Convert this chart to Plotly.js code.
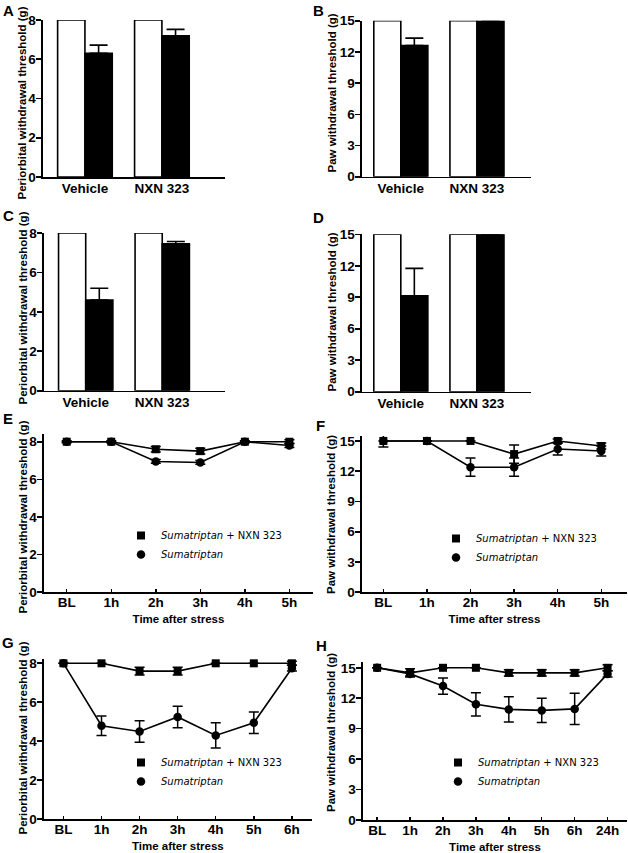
<!DOCTYPE html>
<html>
<head>
<meta charset="utf-8">
<script src="https://cdn.plot.ly/plotly-3.0.1.min.js"></script>
<style>html,body{margin:0;padding:0;background:#fff;}#chart{width:628px;height:853px;}</style>
</head>
<body>
<div id="chart"></div>
<script>
// ---------- DATA ----------
const barGroups = ["Vehicle", "NXN 323"];
// Panel A (periorbital)
const aOpen = [8, 8];
const aFilled = [6.3, 7.2];
const aErr = [0.42, 0.32];
// Panel B (paw)
const bOpen = [15, 15];
const bFilled = [12.6, 15];
const bErr = [0.72, 0];
// Panel C (periorbital)
const cOpen = [8, 8];
const cFilled = [4.6, 7.45];
const cErr = [0.6, 0.12];
// Panel D (paw)
const dOpen = [15, 15];
const dFilled = [9.15, 15];
const dErr = [2.6, 0];

const timeEF = ["BL", "1h", "2h", "3h", "4h", "5h"];
const timeG = ["BL", "1h", "2h", "3h", "4h", "5h", "6h"];
const timeH = ["BL", "1h", "2h", "3h", "4h", "5h", "6h", "24h"];

// Panel E (periorbital)
const eCombo = [8, 8, 7.6, 7.5, 8, 8];
const eComboErr = [0.05, 0.05, 0.15, 0.15, 0.05, 0.1];
const eSuma = [8, 8, 6.95, 6.9, 8, 7.8];
const eSumaErr = [0, 0, 0.1, 0.1, 0, 0.1];
// Panel F (paw)
const fCombo = [15, 15, 15, 13.7, 15, 14.5];
const fComboErr = [0, 0, 0, 0.9, 0.2, 0.3];
const fSuma = [15, 15, 12.4, 12.4, 14.2, 14.0];
const fSumaErr = [0.6, 0, 0.9, 0.9, 0.6, 0.5];
// Panel G (periorbital)
const gCombo = [8, 8, 7.6, 7.6, 8, 8, 8];
const gComboErr = [0, 0, 0.2, 0.2, 0, 0, 0.1];
const gSuma = [8, 4.8, 4.5, 5.25, 4.3, 4.95, 7.75];
const gSumaErr = [0, 0.5, 0.55, 0.55, 0.65, 0.55, 0.15];
// Panel H (paw)
const hCombo = [15, 14.5, 15, 15, 14.5, 14.5, 14.5, 15];
const hComboErr = [0, 0.4, 0, 0, 0.3, 0.3, 0.3, 0.3];
const hSuma = [15, 14.4, 13.2, 11.4, 10.9, 10.8, 10.95, 14.4];
const hSumaErr = [0, 0.2, 0.8, 1.15, 1.25, 1.2, 1.55, 0.3];

const comboName = "<i>Sumatriptan</i> + NXN 323";
const sumaName = "<i>Sumatriptan</i>";
const periTitle = "Periorbital withdrawal threshold (g)";
const pawTitle = "Paw withdrawal threshold (g)";
const timeTitle = "Time after stress";

// ---------- STYLE ----------
const FONT = 'Arial, "Liberation Sans", sans-serif';
const W = 628, H = 853;
const px = v => v / W;
const py = v => 1 - v / H;

function barPair(openV, filledV, err, k) {
  const ax = k === 1 ? '' : k;
  return [
    {type: 'bar', x: barGroups, y: openV, xaxis: 'x' + ax, yaxis: 'y' + ax,
     marker: {color: '#fff', line: {color: '#000', width: 1.6}}, showlegend: false,
     cliponaxis: false, hoverinfo: 'skip'},
    {type: 'bar', x: barGroups, y: filledV, xaxis: 'x' + ax, yaxis: 'y' + ax,
     marker: {color: '#000', line: {color: '#000', width: 1.6}}, showlegend: false,
     cliponaxis: false, hoverinfo: 'skip',
     error_y: {type: 'data', symmetric: false, array: err, arrayminus: err.map(() => 0),
               color: '#000', thickness: 1.6, width: 9}}
  ];
}

function linePair(xs, combo, comboErr, suma, sumaErr, k, leg) {
  const ax = k === 1 ? '' : k;
  const base = {type: 'scatter', x: xs, xaxis: 'x' + ax, yaxis: 'y' + ax, cliponaxis: false, legend: leg};
  return [
    Object.assign({}, base, {y: suma, mode: 'lines', showlegend: false, line: {color: '#000', width: 1.6}}),
    Object.assign({}, base, {y: combo, mode: 'lines', showlegend: false, line: {color: '#000', width: 1.6}}),
    Object.assign({}, base, {y: suma, mode: 'markers', name: sumaName, legendrank: 2,
      marker: {symbol: 'circle', size: 8.5, color: '#000'},
      error_y: {type: 'data', array: sumaErr, color: '#000', thickness: 1.5, width: 5}}),
    Object.assign({}, base, {y: combo, mode: 'markers', name: comboName, legendrank: 1,
      marker: {symbol: 'square', size: 8, color: '#000'},
      error_y: {type: 'data', array: comboErr, color: '#000', thickness: 1.5, width: 5}})
  ];
}

const data = [].concat(
  barPair(aOpen, aFilled, aErr, 1),
  barPair(bOpen, bFilled, bErr, 2),
  barPair(cOpen, cFilled, cErr, 3),
  barPair(dOpen, dFilled, dErr, 4),
  linePair(timeEF, eCombo, eComboErr, eSuma, eSumaErr, 5, 'legend'),
  linePair(timeEF, fCombo, fComboErr, fSuma, fSumaErr, 6, 'legend2'),
  linePair(timeG, gCombo, gComboErr, gSuma, gSumaErr, 7, 'legend3'),
  linePair(timeH, hCombo, hComboErr, hSuma, hSumaErr, 8, 'legend4')
);

const TICKFONT = {family: FONT, size: 13.5, color: '#000', weight: 'bold'};

function xAx(dom, range, k, title) {
  const o = {domain: [px(dom[0]), px(dom[1])], range: range, type: 'category',
    anchor: 'y' + (k === 1 ? '' : k), showline: true, linecolor: '#000', linewidth: 1.6,
    ticks: '', ticklabelstandoff: -2, showgrid: false, zeroline: false, fixedrange: true, tickfont: TICKFONT};
  if (title) {
    o.title = {text: title, font: {family: FONT, size: 11.5, color: '#000', weight: 'bold'}, standoff: 6};
    o.ticks = 'inside'; o.ticklen = 3; o.tickwidth = 1.5; o.tickcolor = '#000';
    o.ticklabelstandoff = -3;
  }
  return o;
}
function yAx(dom, range, dtick, k) {
  return {domain: [py(dom[1]), py(dom[0])], range: range, dtick: dtick, tick0: 0,
    anchor: 'x' + (k === 1 ? '' : k), showline: true, linecolor: '#000', linewidth: 1.6,
    ticks: 'outside', ticklen: 5, tickwidth: 1.6, tickcolor: '#000', ticklabelstandoff: -2,
    showgrid: false, zeroline: false, fixedrange: true, tickfont: TICKFONT};
}

function legendAt(xp, yp) {
  return {x: px(xp), y: py(yp), xanchor: 'left', yanchor: 'top', bgcolor: 'rgba(0,0,0,0)',
    font: {family: '"DejaVu Sans", Verdana, sans-serif', size: 10, color: '#000'},
    traceorder: 'normal', tracegroupgap: 0, itemwidth: 30};
}

function letter(t, xp, yp) {
  return {text: t, x: px(xp), y: py(yp), xref: 'paper', yref: 'paper', showarrow: false,
    xanchor: 'center', yanchor: 'middle', font: {family: FONT, size: 15, color: '#000', weight: 'bold'}};
}
function ytitle(t, xp, y0, y1) {
  return {text: t, x: px(xp), y: py((y0 + y1) / 2), xref: 'paper', yref: 'paper', showarrow: false,
    textangle: -90, xanchor: 'center', yanchor: 'middle',
    font: {family: FONT, size: 11.5, color: '#000', weight: 'bold'}};
}

const layout = {
  width: W, height: H, margin: {l: 0, r: 0, t: 0, b: 0},
  paper_bgcolor: '#fff', plot_bgcolor: '#fff',
  barmode: 'group', bargap: 0.29, bargroupgap: 0,
  font: {family: FONT, color: '#000'},
  xaxis: xAx([43, 225], [-0.545, 1.82], 1),
  yaxis: yAx([20, 177], [0, 8], 2, 1),
  xaxis2: xAx([362, 531], [-0.51, 1.71], 2),
  yaxis2: yAx([20.7, 176.7], [0, 15], 3, 2),
  xaxis3: xAx([44, 225], [-0.545, 1.82], 3),
  yaxis3: yAx([233, 390.7], [0, 8], 2, 3),
  xaxis4: xAx([362, 531], [-0.51, 1.71], 4),
  yaxis4: yAx([234.3, 391.7], [0, 15], 3, 4),
  xaxis5: xAx([44, 313], [-0.51, 5.53], 5, timeTitle),
  yaxis5: yAx([434.2, 592.3], [0, 8.4], 2, 5),
  xaxis6: xAx([362, 627], [-0.49, 5.59], 6, timeTitle),
  yaxis6: yAx([435.9, 592.3], [0, 15.5], 3, 6),
  xaxis7: xAx([44, 311.7], [-0.51, 6.52], 7, timeTitle),
  yaxis7: yAx([659.4, 819.3], [0, 8.2], 2, 7),
  xaxis8: xAx([363, 627], [-0.43, 7.59], 8, timeTitle),
  yaxis8: yAx([661.7, 820], [0, 15.6], 3, 8),
  legend: legendAt(121, 521),
  legend2: legendAt(436, 524),
  legend3: legendAt(121, 748),
  legend4: legendAt(438, 748),
  annotations: [
    letter('A', 8, 10), letter('B', 318, 10), letter('C', 8, 215), letter('D', 318, 217),
    letter('E', 8, 418), letter('F', 320, 425), letter('G', 8, 642), letter('H', 321, 645),
    ytitle(periTitle, 22, 10, 197), ytitle(pawTitle, 331, 12, 175),
    ytitle(periTitle, 22, 215, 402), ytitle(pawTitle, 331, 230, 395),
    ytitle(periTitle, 22, 425, 610), ytitle(pawTitle, 331, 432, 598),
    ytitle(periTitle, 22, 645, 832), ytitle(pawTitle, 331, 650, 816)
  ],
  showlegend: true
};

Plotly.newPlot('chart', data, layout, {staticPlot: true, displayModeBar: false});
</script>
</body>
</html>
